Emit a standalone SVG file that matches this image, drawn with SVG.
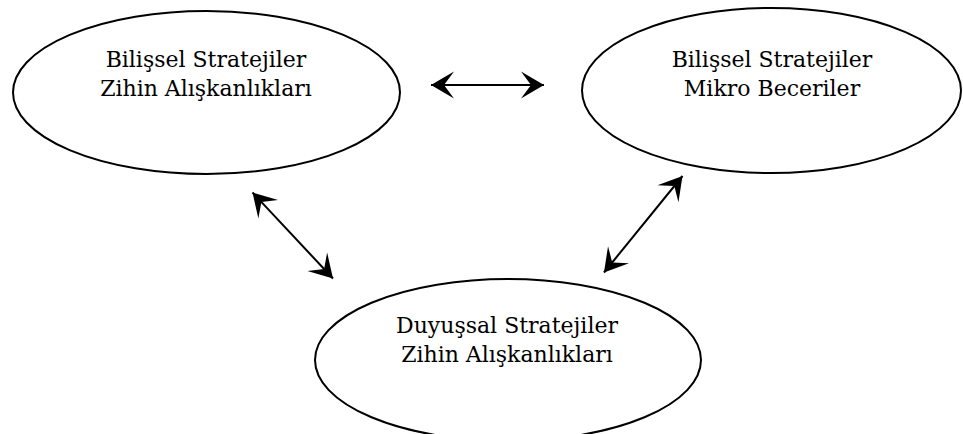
<svg xmlns="http://www.w3.org/2000/svg" width="963" height="434" viewBox="0 0 963 434">
  <style>
    .node ellipse { fill: #ffffff; stroke: #000000; stroke-width: 2; }
    .label { font-family: "DejaVu Serif", serif; font-size: 22px; fill: #000000; text-anchor: middle; }
    .link { stroke: #000000; stroke-width: 2; fill: none; marker-start: url(#head); marker-end: url(#head); }
  </style>
  <defs>
    <!-- stealth-style arrowhead, tip at the origin -->
    <marker id="head" viewBox="-24 -15 26 30" refX="0" refY="0" markerWidth="26" markerHeight="30" markerUnits="userSpaceOnUse" orient="auto-start-reverse">
      <path d="M0,0 L-23,-13.5 L-13,0 L-23,13.5 Z" fill="#000000"/>
    </marker>
  </defs>
  <rect width="963" height="434" fill="#ffffff"/>

  <g id="node-bilissel-zihin" class="node">
    <ellipse cx="206.5" cy="92.5" rx="193.5" ry="81.5"/>
    <text class="label" x="206" y="67">Bilişsel Stratejiler</text>
    <text class="label" x="206" y="96">Zihin Alışkanlıkları</text>
  </g>

  <g id="node-bilissel-mikro" class="node">
    <ellipse cx="771.5" cy="90.5" rx="189.5" ry="82.5"/>
    <text class="label" x="772" y="67">Bilişsel Stratejiler</text>
    <text class="label" x="772" y="96">Mikro Beceriler</text>
  </g>

  <g id="node-duyussal-zihin" class="node">
    <ellipse cx="508" cy="360" rx="193" ry="81"/>
    <text class="label" x="507" y="333">Duyuşsal Stratejiler</text>
    <text class="label" x="507" y="362">Zihin Alışkanlıkları</text>
  </g>

  <g id="connectors">
    <line class="link" x1="431" y1="85" x2="544" y2="85"/>
    <line class="link" x1="252.5" y1="192.5" x2="333" y2="278.5"/>
    <line class="link" x1="682.5" y1="176" x2="604" y2="272.5"/>
  </g>
</svg>
